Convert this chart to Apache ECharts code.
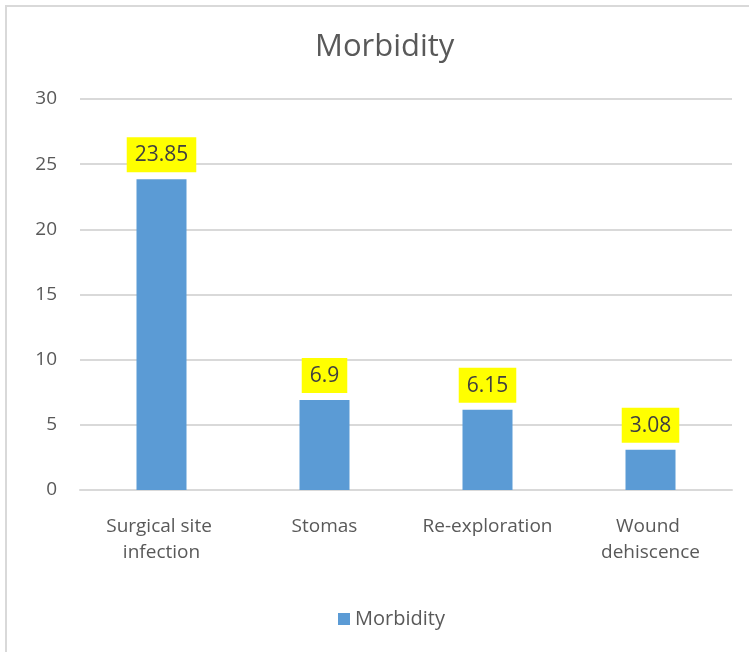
<!DOCTYPE html>
<html>
<head>
<meta charset="utf-8">
<script src="https://cdn.jsdelivr.net/npm/echarts@6/dist/echarts.min.js"></script>
<style>
  html, body { margin: 0; padding: 0; background: #ffffff; }
  #frame { position: absolute; left: 5px; top: 5px; width: 760px; height: 660px;
           border-top: 2px solid #d9d9d9; border-left: 2px solid #d9d9d9; }
  #myChart { position: absolute; left: 0; top: 0; width: 749px; height: 652px; }
</style>
</head>
<body>
<div id="frame"></div>
<div id="myChart"></div>
<script>
// chart data
var categories = ["Surgical site infection", "Stomas", "Re-exploration", "Wound dehiscence"];
var morbidity = [23.85, 6.9, 6.15, 3.08];
var yTicks = [0, 5, 10, 15, 20, 25, 30];

var myChart = echarts.init(document.getElementById("myChart"));
var font = "'Open Sans', sans-serif";

var option = {
  animation: false,
  title: {
    text: "Morbidity",
    left: 310,
    top: 27,
    textStyle: { fontFamily: font, fontSize: 31, fontWeight: "normal", color: "#595959" }
  },
  legend: {
    data: ["Morbidity"],
    left: 333,
    top: 604,
    itemWidth: 12,
    itemHeight: 12,
    itemGap: 6,
    icon: "rect",
    textStyle: { fontFamily: font, fontSize: 20, color: "#595959" }
  },
  grid: { left: 80, right: 17, top: 99, bottom: 162 },
  xAxis: {
    type: "category",
    data: categories,
    axisLine: { lineStyle: { color: "#d9d9d9", width: 2 } },
    axisTick: { show: false },
    axisLabel: {
      interval: 0,
      margin: 24,
      width: 150,
      overflow: "break",
      fontFamily: font,
      fontSize: 19,
      lineHeight: 26,
      color: "#595959"
    }
  },
  yAxis: {
    type: "value",
    min: yTicks[0],
    max: yTicks[yTicks.length - 1],
    interval: 5,
    axisLine: { show: false },
    axisTick: { show: false },
    splitLine: { lineStyle: { color: "#d9d9d9", width: 2 } },
    axisLabel: { margin: 23, fontFamily: font, fontSize: 19, color: "#595959" }
  },
  series: [
    {
      name: "Morbidity",
      type: "bar",
      barWidth: 50,
      itemStyle: { color: "#5b9bd5" },
      label: {
        show: true,
        position: "top",
        distance: 7,
        backgroundColor: "#ffff00",
        padding: [6, 8, 5, 8],
        fontFamily: font,
        fontSize: 21,
        lineHeight: 24,
        color: "#404040"
      },
      data: morbidity
    }
  ]
};

option && myChart.setOption(option);
</script>
</body>
</html>
